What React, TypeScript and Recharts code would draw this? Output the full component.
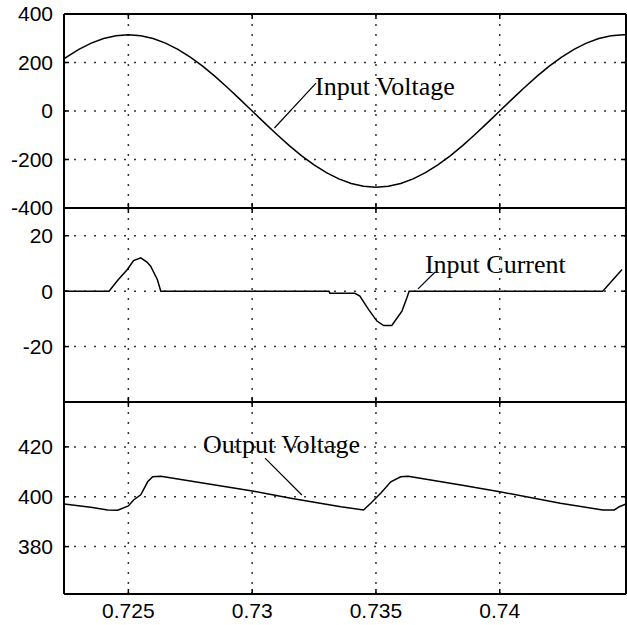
import React from 'react';
import { LineChart, Line, XAxis, YAxis, CartesianGrid, ReferenceLine, ReferenceDot } from 'recharts';

// ---- shared x axis ----
const xDomain: [number, number] = [0.7224, 0.7451];
const xTicks = [0.725, 0.73, 0.735, 0.74];

// ---- Input voltage ----
const voltageTime = [
  0.7224, 0.7225, 0.723, 0.7235, 0.724, 0.7245, 0.725, 0.7255, 0.726, 0.7265, 0.727, 0.7275,
  0.728, 0.7285, 0.729, 0.7295, 0.73, 0.7305, 0.731, 0.7315, 0.732, 0.7325, 0.733, 0.7335,
  0.734, 0.7345, 0.735, 0.7355, 0.736, 0.7365, 0.737, 0.7375, 0.738, 0.7385, 0.739, 0.7395,
  0.74, 0.7405, 0.741, 0.7415, 0.742, 0.7425, 0.743, 0.7435, 0.744, 0.7445, 0.745, 0.7451,
];
const inputVoltage = [
  215, 222, 254, 280, 299, 310, 314, 310, 299, 280, 254, 222,
  185, 143, 97, 49, 0, -49, -97, -143, -185, -222, -254, -280,
  -299, -310, -314, -310, -299, -280, -254, -222, -185, -143, -97, -49,
  0, 49, 97, 143, 185, 222, 254, 280, 299, 310, 314, 314,
];
const voltageTicks = [-400, -200, 0, 200, 400];
const voltageDomain: [number, number] = [-400, 400];

// ---- Input current ----
const currentTime = [
  0.7224, 0.72422, 0.72457, 0.72496, 0.72521, 0.7255, 0.72575, 0.7259, 0.72617, 0.72631,
  0.7331, 0.73314, 0.73415, 0.73435, 0.7347, 0.73504, 0.73531, 0.73564, 0.73605, 0.73625,
  0.73634, 0.74416, 0.74494,
];
const inputCurrent = [
  0, 0, 3.9, 7.8, 11, 12, 10.5, 9, 4.2, 0,
  0, -0.8, -0.8, -1.8, -6.6, -10.8, -12.4, -12.4, -7.2, -2.4,
  0, 0, 7.8,
];
const currentTicks = [-20, 0, 20];
const currentDomain: [number, number] = [-40, 30];

// ---- Output voltage ----
const outputTime = [
  0.7224, 0.72348, 0.72416, 0.72457, 0.725, 0.72521, 0.7255, 0.72578, 0.72598, 0.72631,
  0.73001, 0.73156, 0.73358, 0.7345, 0.7348, 0.7352, 0.7356, 0.736, 0.7363, 0.73843,
  0.74, 0.74245, 0.74416, 0.74463, 0.74483, 0.7451,
];
const outputVoltage = [
  397.1, 395.8, 394.7, 394.6, 396.3, 398.7, 400.8, 406, 408, 408.2,
  402.3, 399.4, 396, 394.7, 397.5, 401.5, 406, 408, 408.2, 404.7,
  402, 397.4, 394.7, 394.7, 396, 397.1,
];
const outputTicks = [380, 400, 420];
const outputDomain: [number, number] = [361, 438];

// ---- annotations ----
const labelNames = ['Input Voltage', 'Input Current', 'Output Voltage'];

const voltageData = voltageTime.map((t, i) => ({ t, v: inputVoltage[i] }));
const currentData = currentTime.map((t, i) => ({ t, v: inputCurrent[i] }));
const outputData = outputTime.map((t, i) => ({ t, v: outputVoltage[i] }));

const axisStroke = { stroke: '#000', strokeWidth: 2 };
const tickStroke = { stroke: '#000', strokeWidth: 1.5 };
const tickFont = { fontSize: 21, fontFamily: "'Liberation Sans', Arial, sans-serif", fill: '#000' };
const serif = "'Liberation Serif', 'Times New Roman', serif";
const noLabel = () => <g />;

function frame(yDomain: [number, number], yTicks: number[], showXLabels: boolean, bottomHeight: number) {
  return [
    <CartesianGrid key="g" xAxisId="b" yAxisId="l" stroke="#333" strokeWidth={1.5} strokeDasharray="2 8" />,
    <XAxis key="xb" xAxisId="b" type="number" dataKey="t" domain={xDomain} ticks={xTicks} allowDataOverflow
      orientation="bottom" height={bottomHeight} axisLine={axisStroke} tickLine={tickStroke} tickSize={-5}
      tickMargin={14} tick={showXLabels ? tickFont : noLabel} interval={0} />,
    <XAxis key="xt" xAxisId="t" type="number" dataKey="t" domain={xDomain} ticks={xTicks} allowDataOverflow
      orientation="top" height={1} axisLine={axisStroke} tickLine={tickStroke} tickSize={-5} tick={noLabel} interval={0} />,
    <YAxis key="yl" yAxisId="l" type="number" domain={yDomain} ticks={yTicks} allowDataOverflow width={64}
      axisLine={axisStroke} tickLine={tickStroke} tickSize={-5} tickMargin={16} tick={tickFont} interval={0} />,
    <YAxis key="yr" yAxisId="r" orientation="right" type="number" domain={yDomain} ticks={yTicks} allowDataOverflow
      width={1} axisLine={axisStroke} tickLine={tickStroke} tickSize={-5} tick={noLabel} interval={0} />,
  ];
}

function annotation(key: string, text: string, lx: number, ly: number, p1: [number, number], p2: [number, number]) {
  return [
    <ReferenceLine key={key + 'l'} xAxisId="b" yAxisId="l" ifOverflow="visible"
      segment={[{ x: p1[0], y: p1[1] }, { x: p2[0], y: p2[1] }]} stroke="#000" strokeWidth={1.2} />,
    <ReferenceDot key={key + 'd'} xAxisId="b" yAxisId="l" x={lx} y={ly} r={0} fill="none" stroke="none"
      ifOverflow="visible"
      label={{ value: text, position: 'right', offset: 0, fill: '#000', fontSize: 26, fontFamily: serif }} />,
  ];
}

export default function App() {
  return (
    <div style={{ position: 'absolute', left: 0, top: 0, width: 627, height: 625, background: '#fff' }}>
      <div style={{ position: 'absolute', left: 0, top: 0 }}>
        <LineChart width={627} height={222} data={voltageData} margin={{ top: 13, right: 0, bottom: 13, left: 0 }}>
          {frame(voltageDomain, voltageTicks, false, 1)}
          <Line xAxisId="b" yAxisId="l" type="linear" dataKey="v" stroke="#000" strokeWidth={1.5} dot={false} isAnimationActive={false} />
          {annotation('a', labelNames[0], 0.73254, 103, [0.73258, 115], [0.7309, -70])}
        </LineChart>
      </div>
      <div style={{ position: 'absolute', left: 0, top: 196 }}>
        <LineChart width={627} height={220} data={currentData} margin={{ top: 11, right: 0, bottom: 13, left: 0 }}>
          {frame(currentDomain, currentTicks, false, 1)}
          <Line xAxisId="b" yAxisId="l" type="linear" dataKey="v" stroke="#000" strokeWidth={1.5} dot={false} isAnimationActive={false} />
          {annotation('b', labelNames[1], 0.73698, 9.9, [0.73739, 6.9], [0.7367, 0.8])}
        </LineChart>
      </div>
      <div style={{ position: 'absolute', left: 0, top: 388 }}>
        <LineChart width={627} height={237} data={outputData} margin={{ top: 13, right: 0, bottom: 0, left: 0 }}>
          {frame(outputDomain, outputTicks, true, 31)}
          <Line xAxisId="b" yAxisId="l" type="linear" dataKey="v" stroke="#000" strokeWidth={1.5} dot={false} isAnimationActive={false} />
          {annotation('c', labelNames[2], 0.72801, 421.2, [0.73052, 415.5], [0.73201, 400.7])}
        </LineChart>
      </div>
    </div>
  );
}
